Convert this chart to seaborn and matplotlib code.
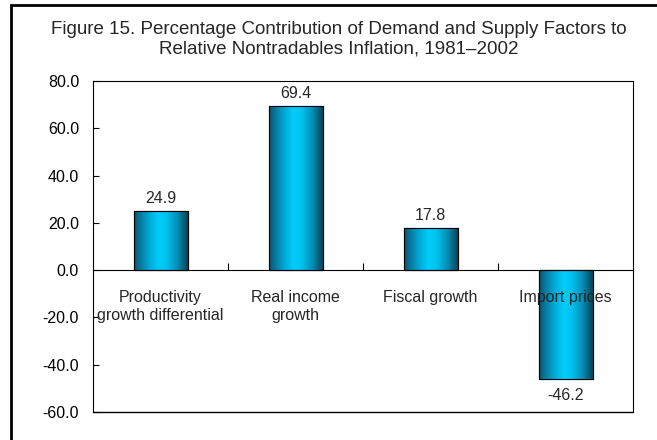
import matplotlib
matplotlib.use("Agg")
import matplotlib.pyplot as plt
import seaborn as sns
import numpy as np
import pandas as pd
from matplotlib.colors import LinearSegmentedColormap
from matplotlib.patches import Rectangle

categories = ["Productivity\ngrowth differential", "Real income\ngrowth", "Fiscal growth", "Import prices"]
values = [24.9, 69.4, 17.8, -46.2]
value_labels = ["24.9", "69.4", "17.8", "-46.2"]
yticks = [-60, -40, -20, 0, 20, 40, 60, 80]
ytick_labels = ["-60.0", "-40.0", "-20.0", "0.0", "20.0", "40.0", "60.0", "80.0"]
title = "Figure 15. Percentage Contribution of Demand and Supply Factors to\nRelative Nontradables Inflation, 1981\u20132002"

sns.set_theme(style="white")
plt.rcParams['font.family'] = ['Liberation Sans', 'DejaVu Sans']

FS = 11.5
W, H = 657, 440
fig = plt.figure(figsize=(W / 100, H / 100), dpi=100)
fig.patch.set_facecolor("white")
ax = fig.add_axes([93 / W, 1 - 412 / H, (633 - 93) / W, (412 - 81) / H])

df = pd.DataFrame({"cat": categories, "val": values})
sns.barplot(data=df, x="cat", y="val", ax=ax, width=0.4, color="#00c8f5",
            edgecolor="black", linewidth=0.8, zorder=2)

cmap = LinearSegmentedColormap.from_list("cyl", [
    (0.0, "#0b4f66"), (0.08, "#0a6f8f"), (0.3, "#02addb"), (0.45, "#00cdf9"),
    (0.6, "#00c3ef"), (0.8, "#0690b8"), (0.94, "#055a75"), (1.0, "#04465a")])
grad = np.linspace(0, 1, 256).reshape(1, -1)
for p in ax.patches:
    x0, y0 = p.get_x(), p.get_y()
    w, h = p.get_width(), p.get_height()
    im = ax.imshow(grad, cmap=cmap, aspect="auto", extent=[x0, x0 + w, y0, y0 + h],
                   zorder=2.5, interpolation="bicubic")
    im.set_clip_path(p)
    outline = Rectangle((x0, y0), w, h, fill=False, edgecolor="black", linewidth=0.8, zorder=3)
    ax.add_patch(outline)

ax.set_xlim(-0.5, len(categories) - 0.5)
ax.set_ylim(-60, 80)
ax.set_yticks(yticks)
ax.set_yticklabels(ytick_labels, fontsize=FS)
ax.tick_params(axis="y", direction="in", length=4, width=0.8, pad=10, colors="black", left=True)

# category axis crosses at zero
ax.spines["bottom"].set_position(("data", 0))
ax.set_xticks([0.5, 1.5, 2.5])
ax.set_xticklabels([])
ax.tick_params(axis="x", direction="in", length=5, width=0.8, bottom=True, colors="black")
for s in ax.spines.values():
    s.set_color("black")
    s.set_linewidth(0.8)
ax.spines["bottom"].set_zorder(4)
ax.axhline(-60, color="black", linewidth=1.0, clip_on=False, zorder=4)
ax.set_xlabel("")
ax.set_ylabel("")

for i, c in enumerate(categories):
    ax.annotate(c, xy=(i, 0), xytext=(0, -14), textcoords="offset points",
                ha="center", va="top", fontsize=FS, linespacing=1.25, zorder=5)

for i, (v, lab) in enumerate(zip(values, value_labels)):
    if v >= 0:
        ax.annotate(lab, xy=(i, v), xytext=(0, 4), textcoords="offset points",
                    ha="center", va="bottom", fontsize=FS, zorder=5)
    else:
        ax.annotate(lab, xy=(i, v), xytext=(0, -6), textcoords="offset points",
                    ha="center", va="top", fontsize=FS, zorder=5)

fig.text(339 / W, 1 - 21 / H, title, ha="center", va="top", fontsize=13.5, linespacing=1.2)

# outer chart-area border (extends past right/bottom edges)
fig.patches.append(Rectangle((11 / W, -0.1), 1.2, 1.1 - 5 / H, transform=fig.transFigure,
                             fill=False, edgecolor="black", linewidth=2, zorder=10))

fig.savefig("out.png", dpi=100, facecolor="white")
